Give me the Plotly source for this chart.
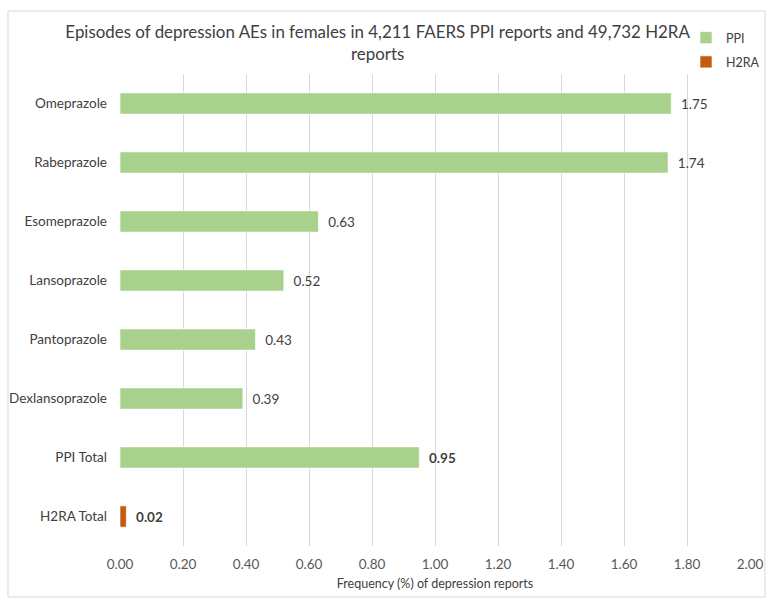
import plotly.graph_objects as go

drugs = ["Omeprazole", "Rabeprazole", "Esomeprazole", "Lansoprazole",
         "Pantoprazole", "Dexlansoprazole", "PPI Total"]
ppi_values = [1.75, 1.74, 0.63, 0.52, 0.43, 0.39, 0.95]
h2ra_category = ["H2RA Total"]
h2ra_values = [0.02]
categories = drugs + h2ra_category
x_ticks = [0.0, 0.2, 0.4, 0.6, 0.8, 1.0, 1.2, 1.4, 1.6, 1.8, 2.0]

FONT = "Lato"
W, H = 766, 598
L, R, T, B = 120, 16, 74, 52
pw, ph = W - L - R, H - T - B


def px_to_paper_x(px):
    return (px - L) / pw


def px_to_paper_y(py):
    return (H - B - py) / ph


def label(v, bold):
    s = f"{v:.2f}"
    s = f"<b>{s}</b>" if bold else s
    return "\u2002" + s


ppi_text = [label(v, d == "PPI Total") for d, v in zip(drugs, ppi_values)]
h2ra_text = [label(v, True) for v in h2ra_values]

bar_line = dict(color="rgba(255,255,255,0.6)", width=1)

fig = go.Figure()
fig.add_trace(go.Bar(
    y=drugs, x=ppi_values, orientation="h", name="PPI",
    marker=dict(color="#A9D18E", line=bar_line), width=0.36,
    text=ppi_text, textposition="outside", cliponaxis=False,
    textfont=dict(family=FONT, size=13.5, color="#404040"),
    legendgroup="a",
))
fig.add_trace(go.Bar(
    y=h2ra_category, x=h2ra_values, orientation="h", name="H2RA",
    marker=dict(color="#C55A11", line=bar_line), width=0.36,
    text=h2ra_text, textposition="outside", cliponaxis=False,
    textfont=dict(family=FONT, size=13.5, color="#404040"),
    legendgroup="b",
))

fig.update_layout(
    width=W, height=H,
    margin=dict(l=L, r=R, t=T, b=B, autoexpand=False),
    paper_bgcolor="white", plot_bgcolor="white",
    barmode="overlay",
    font=dict(family=FONT, color="#595959", size=13),
    title=dict(
        text="Episodes of depression AEs in females in 4,211 FAERS PPI reports and 49,732 H2RA<br>reports",
        x=0.493, xanchor="center", y=1 - 38 / H, yanchor="middle",
        font=dict(family=FONT, size=16.9, color="#404040"),
    ),
    xaxis=dict(
        range=[0, 2.0], tickvals=x_ticks, ticktext=[f"{v:.2f}" for v in x_ticks],
        showgrid=True, gridcolor="#D9D9D9", gridwidth=1,
        zeroline=False, showline=False, ticks="", ticklabelstandoff=8,
        tickfont=dict(family=FONT, size=13.5, color="#595959"),
        title=dict(text="Frequency (%) of depression reports", standoff=8,
                   font=dict(family=FONT, size=12.5, color="#404040")),
    ),
    yaxis=dict(
        categoryorder="array", categoryarray=categories,
        autorange="reversed", showgrid=False, zeroline=False,
        showline=False, ticks="", ticklabelstandoff=12,
        tickfont=dict(family=FONT, size=13.5, color="#404040"),
    ),
    legend=dict(
        x=px_to_paper_x(686), y=px_to_paper_y(23), xanchor="left", yanchor="top",
        font=dict(family=FONT, size=12.5, color="#404040"),
        tracegroupgap=5, itemwidth=30, bgcolor="rgba(0,0,0,0)",
    ),
    shapes=[dict(
        type="rect", xref="paper", yref="paper",
        x0=px_to_paper_x(8), x1=px_to_paper_x(765),
        y0=px_to_paper_y(597), y1=px_to_paper_y(11),
        line=dict(color="#D9D9D9", width=1), fillcolor="rgba(0,0,0,0)",
        layer="below",
    )],
)

fig.write_html("out.html")
